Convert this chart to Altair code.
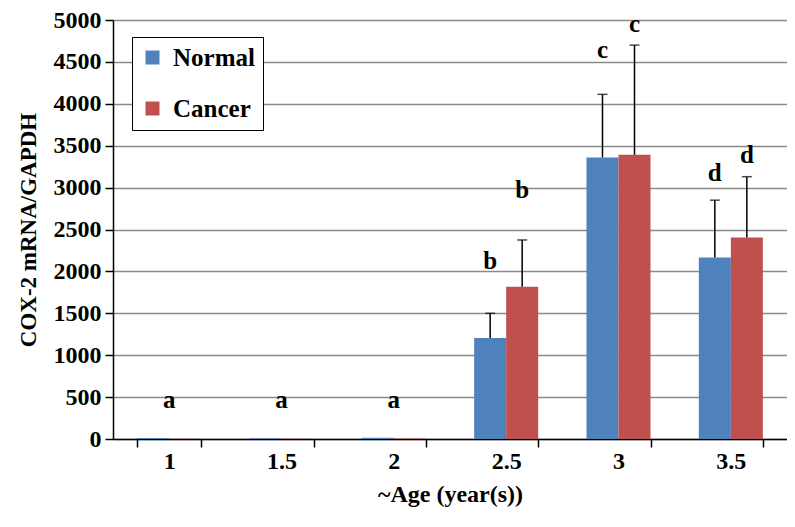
import altair as alt
import pandas as pd

ages = ["1", "1.5", "2", "2.5", "3", "3.5"]
groups = ["Normal", "Cancer"]
colors = ["#4F81BD", "#C0504D"]

normal_mean = [12, 8, 15, 1205, 3360, 2165]
normal_upper = [12, 8, 15, 1500, 4113, 2850]
cancer_mean = [3, 3, 5, 1818, 3392, 2405]
cancer_upper = [3, 3, 5, 2375, 4700, 3130]

normal_letter = ["", "", "", "b", "c", "d"]
normal_letter_y = [0, 0, 0, 2124, 4642, 3174]
cancer_letter = ["", "", "", "b", "c", "d"]
cancer_letter_y = [0, 0, 0, 2971, 4950, 3389]

group_letter = ["a", "a", "a"]
group_letter_age = ["1", "1.5", "2"]
group_letter_y = [465, 465, 465]

rows = []
for i, a in enumerate(ages):
    rows.append(dict(age=a, group="Normal", mean=normal_mean[i], upper=normal_upper[i],
                     letter=normal_letter[i], letter_y=normal_letter_y[i]))
    rows.append(dict(age=a, group="Cancer", mean=cancer_mean[i], upper=cancer_upper[i],
                     letter=cancer_letter[i], letter_y=cancer_letter_y[i]))
df = pd.DataFrame(rows)
df_a = pd.DataFrame(dict(age=group_letter_age, letter=group_letter, letter_y=group_letter_y))

FONT = "Liberation Serif"

x_enc = alt.X(
    "age:N", sort=ages,
    scale=alt.Scale(paddingInner=0.43, paddingOuter=0.215),
    axis=alt.Axis(title="~Age (year(s))", labelAngle=0, tickBand="extent", tickSize=8,
                  domainColor="black", tickColor="black", domainWidth=1.5, tickWidth=1.5,
                  labelFontSize=24, labelFontWeight="bold", labelFont=FONT, labelColor="black",
                  labelPadding=2, titleFontSize=24, titleFont=FONT, titleFontWeight="bold",
                  titleColor="black", titlePadding=9, grid=False),
)
xoff = alt.XOffset("group:N", sort=groups, scale=alt.Scale(paddingInner=0, paddingOuter=0))

y_scale = alt.Scale(domain=[0, 5000], nice=False)
y_axis = alt.Axis(title="COX-2 mRNA/GAPDH", values=list(range(0, 5001, 500)), format="d",
                  tickSize=8, domainColor="black", tickColor="black", domainWidth=1.5, tickWidth=1.5,
                  gridColor="#8a8a8a", gridWidth=1.5, labelFontSize=24, labelFontWeight="bold",
                  labelFont=FONT, labelColor="black", labelPadding=4, titleFontSize=23,
                  titleFont=FONT, titleFontWeight="bold", titleColor="black", titlePadding=13)

bars = alt.Chart(df).mark_bar().encode(
    x=x_enc, xOffset=xoff,
    y=alt.Y("mean:Q", scale=y_scale, axis=y_axis),
    color=alt.Color("group:N", sort=groups, scale=alt.Scale(domain=groups, range=colors),
                    legend=alt.Legend(title=None, orient="none", legendX=19, legendY=17,
                                      symbolType="square", symbolSize=196, symbolStrokeWidth=0,
                                      labelFont=FONT, labelFontSize=25, labelFontWeight="bold",
                                      labelColor="black", rowPadding=25, strokeColor="black",
                                      fillColor="white", padding=8, labelOffset=8)),
)

err = alt.Chart(df).transform_filter("datum.upper > datum.mean").mark_rule(
    color="black", strokeWidth=1.5).encode(
    x=x_enc, xOffset=xoff, y=alt.Y("mean:Q", scale=y_scale), y2="upper:Q")

caps = alt.Chart(df).transform_filter("datum.upper > datum.mean").mark_tick(
    color="black", size=10, thickness=1.5).encode(
    x=x_enc, xOffset=xoff, y=alt.Y("upper:Q", scale=y_scale))

letters = alt.Chart(df).transform_filter("datum.letter != ''").mark_text(
    font=FONT, fontWeight="bold", fontSize=25, baseline="middle", color="black").encode(
    x=x_enc, xOffset=xoff, y=alt.Y("letter_y:Q", scale=y_scale), text="letter:N")

a_letters = alt.Chart(df_a).mark_text(
    font=FONT, fontWeight="bold", fontSize=25, baseline="middle", color="black").encode(
    x=x_enc, y=alt.Y("letter_y:Q", scale=y_scale), text="letter:N")

chart = alt.layer(bars, err, caps, letters, a_letters).properties(
    width=674, height=419,
    padding={"left": 105, "top": 12, "right": 0, "bottom": 70},
    autosize=alt.AutoSizeParams(type="none"),
).configure_view(stroke=None)

chart.save("out.html", embed_options={"renderer": "svg", "actions": False})
